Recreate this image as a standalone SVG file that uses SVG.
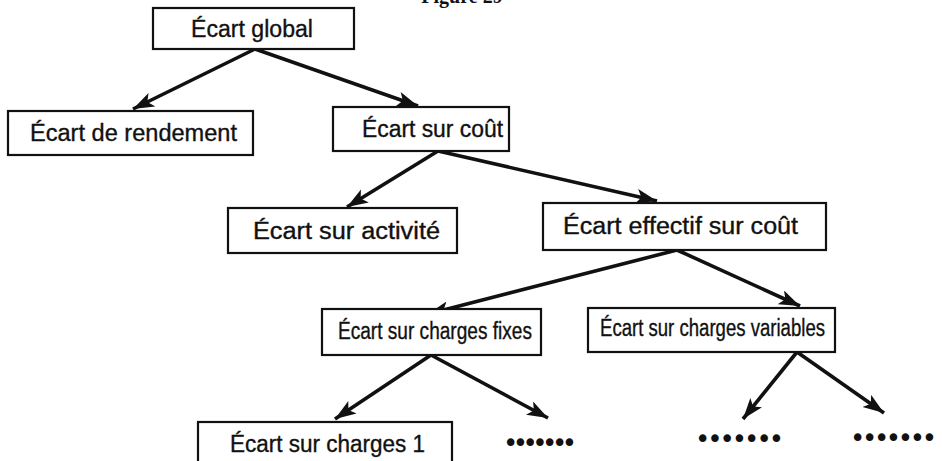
<svg xmlns="http://www.w3.org/2000/svg" width="942" height="461" viewBox="0 0 942 461">
<style>
  .box { fill: #fff; stroke: #111; stroke-width: 2.2; }
  .lbl { font-family: "Liberation Sans", Arial, sans-serif; font-size: 23px; fill: #111; stroke: #111; stroke-width: 0.35; }
  .dots { font-family: "DejaVu Sans", sans-serif; font-size: 26px; fill: #111; }
  .edge { stroke: #111; stroke-width: 3.6; fill: none; marker-end: url(#arr); }
  .title { font-family: "Liberation Serif", "Times New Roman", serif; font-weight: bold; font-size: 20px; fill: #111; }
</style>
<defs>
  <marker id="arr" markerUnits="userSpaceOnUse" markerWidth="24" markerHeight="16" refX="21" refY="7.5" orient="auto">
    <path d="M0,0 L21,7.5 L0,15 L5,7.5 z" fill="#111"/>
  </marker>
</defs>
<rect width="942" height="461" fill="#fff"/>
<text class="title" x="462" y="3" text-anchor="middle">Figure 29</text>

<g id="connectors">
  <line class="edge" x1="255" y1="49" x2="133" y2="109"/>
  <line class="edge" x1="255" y1="49" x2="418" y2="106"/>
  <line class="edge" x1="438" y1="151" x2="347" y2="207"/>
  <line class="edge" x1="438" y1="151" x2="657" y2="201"/>
  <line class="edge" x1="677" y1="250" x2="428" y2="314"/>
  <line class="edge" x1="677" y1="250" x2="800" y2="306"/>
  <line class="edge" x1="431" y1="355" x2="335" y2="419"/>
  <line class="edge" x1="431" y1="355" x2="548" y2="418"/>
  <line class="edge" x1="797" y1="352" x2="743" y2="419"/>
  <line class="edge" x1="797" y1="352" x2="884" y2="413"/>
</g>

<g id="n-global">
  <rect class="box" x="153" y="8" width="201" height="41"/>
  <text class="lbl" x="191" y="37" textLength="122" lengthAdjust="spacingAndGlyphs">Écart global</text>
</g>
<g id="n-rendement">
  <rect class="box" x="8" y="111" width="245" height="44"/>
  <text class="lbl" x="30" y="141" textLength="207" lengthAdjust="spacingAndGlyphs">Écart de rendement</text>
</g>
<g id="n-cout">
  <rect class="box" x="333" y="107" width="176" height="44"/>
  <text class="lbl" x="362" y="137" textLength="141" lengthAdjust="spacingAndGlyphs">Écart sur coût</text>
</g>
<g id="n-activite">
  <rect class="box" x="228" y="208" width="229" height="45"/>
  <text class="lbl" x="253" y="239" textLength="187" lengthAdjust="spacingAndGlyphs">Écart sur activité</text>
</g>
<g id="n-effectif">
  <rect class="box" x="543" y="203" width="283" height="47"/>
  <text class="lbl" x="563" y="234" textLength="235" lengthAdjust="spacingAndGlyphs">Écart effectif sur coût</text>
</g>
<g id="n-fixes">
  <rect class="box" x="322" y="309" width="219" height="46"/>
  <text class="lbl" x="338" y="339" textLength="194" lengthAdjust="spacingAndGlyphs">Écart sur charges fixes</text>
</g>
<g id="n-variables">
  <rect class="box" x="588" y="308" width="247" height="44"/>
  <text class="lbl" x="600" y="336" textLength="225" lengthAdjust="spacingAndGlyphs">Écart sur charges variables</text>
</g>
<g id="n-charges1">
  <rect class="box" x="198" y="422" width="254" height="45"/>
  <text class="lbl" x="230" y="452" textLength="195" lengthAdjust="spacingAndGlyphs">Écart sur charges 1</text>
</g>
<g id="n-dots1">
  <text class="dots" x="503" y="452" textLength="74" lengthAdjust="spacing">•••••••</text>
</g>
<g id="n-dots2">
  <text class="dots" x="695" y="448" textLength="89" lengthAdjust="spacing">•••••••</text>
</g>
<g id="n-dots3">
  <text class="dots" x="850" y="447" textLength="87" lengthAdjust="spacing">•••••••</text>
</g>
</svg>
